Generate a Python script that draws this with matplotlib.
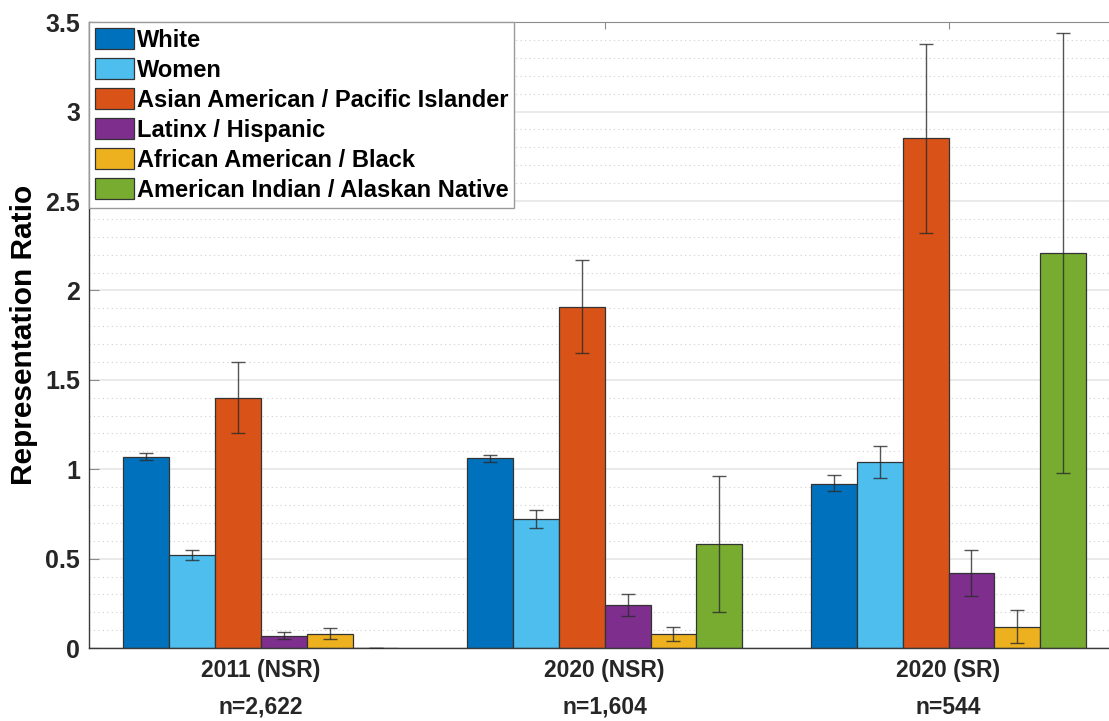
import numpy as np
import matplotlib
matplotlib.use("Agg")
import matplotlib.pyplot as plt
from matplotlib.ticker import MultipleLocator

# ── data ─────────────────────────────────────────────────────────────────────
groups = ["2011 (NSR)\nn=2,622", "2020 (NSR)\nn=1,604", "2020 (SR)\nn=544"]
series = ["White", "Women", "Asian American / Pacific Islander",
          "Latinx / Hispanic", "African American / Black",
          "American Indian / Alaskan Native"]
colors = ["#0072BD", "#4DBEEE", "#D95319", "#7E2F8E", "#EDB120", "#77AC30"]

white  = [1.07, 1.06, 0.92]
women  = [0.52, 0.72, 1.04]
aapi   = [1.40, 1.91, 2.85]
latinx = [0.07, 0.24, 0.42]
black  = [0.08, 0.08, 0.12]
aian   = [0.00, 0.58, 2.21]

white_lo,  white_hi  = [1.05, 1.04, 0.88], [1.09, 1.08, 0.97]
women_lo,  women_hi  = [0.49, 0.67, 0.95], [0.55, 0.77, 1.13]
aapi_lo,   aapi_hi   = [1.20, 1.65, 2.32], [1.60, 2.17, 3.38]
latinx_lo, latinx_hi = [0.05, 0.18, 0.29], [0.09, 0.30, 0.55]
black_lo,  black_hi  = [0.05, 0.04, 0.03], [0.11, 0.12, 0.21]
aian_lo,   aian_hi   = [0.00, 0.20, 0.98], [0.00, 0.96, 3.44]

values = [white, women, aapi, latinx, black, aian]
lows   = [white_lo, women_lo, aapi_lo, latinx_lo, black_lo, aian_lo]
highs  = [white_hi, women_hi, aapi_hi, latinx_hi, black_hi, aian_hi]

plt.rcParams["font.family"] = ["Liberation Sans", "DejaVu Sans"]
plt.rcParams["font.weight"] = "bold"

fig = plt.figure(figsize=(11.09, 7.21), dpi=100)
ax = fig.add_axes([0.0803, 0.1012, 0.93, 0.868])

x = np.arange(1, len(groups) + 1)
n = len(series)
w = 0.8 / n

for i, (name, vals, lo, hi) in enumerate(zip(series, values, lows, highs)):
    pos = x + (i - (n - 1) / 2) * w
    vals = np.array(vals)
    ax.bar(pos, vals, width=w, color=colors[i], edgecolor="#333333",
           linewidth=0.9, label=name, zorder=2)
    yerr = np.vstack([vals - np.array(lo), np.array(hi) - vals])
    ax.errorbar(pos, vals, yerr=yerr, fmt="none", ecolor="#2a2a2a",
                elinewidth=1.0, capsize=5, capthick=1.0, alpha=0.8, zorder=3)

ax.set_xlim(0.5, 3.5)
ax.set_ylim(0, 3.5)
ax.yaxis.set_major_locator(MultipleLocator(0.5))
ax.yaxis.set_minor_locator(MultipleLocator(0.1))
ax.set_yticks([0, 0.5, 1, 1.5, 2, 2.5, 3, 3.5])
ax.set_yticklabels(["0", "0.5", "1", "1.5", "2", "2.5", "3", "3.5"])
ax.set_xticks(x)
ax.set_xticklabels(groups, linespacing=1.75)

ax.grid(axis="y", which="major", color="#e6e6e6", linewidth=1.2, zorder=0)
ax.grid(axis="y", which="minor", color="#d0d0d0", linewidth=0.8,
        linestyle=(0, (1, 3)), zorder=0)
ax.set_axisbelow(True)

ax.tick_params(axis="both", which="both", direction="in", top=True,
               right=False, colors="#8c8c8c", labelcolor="#262626")
ax.tick_params(axis="y", which="major", labelsize=18, length=7, pad=6.5)
ax.tick_params(axis="y", which="minor", length=0)
ax.tick_params(axis="x", which="major", labelsize=16.5, length=5, pad=8)

for side in ["left", "bottom"]:
    ax.spines[side].set_color("#3a3a3a")
    ax.spines[side].set_linewidth(1.0)
ax.spines["top"].set_color("#8c8c8c")
ax.spines["right"].set_visible(False)

ax.set_ylabel("Representation Ratio", fontsize=21.5, fontweight="bold",
              labelpad=5)

leg = ax.legend(loc="upper left", fontsize=17, frameon=True, fancybox=False,
                borderaxespad=0.0, handlelength=1.65, handleheight=1.0,
                handletextpad=0.12, labelspacing=0.27, borderpad=0.25)
leg.get_frame().set_edgecolor("#9a9a9a")
leg.get_frame().set_linewidth(1.0)
leg.get_frame().set_alpha(1.0)
for t in leg.get_texts():
    t.set_fontweight("bold")

fig.savefig("out.png", dpi=100)
